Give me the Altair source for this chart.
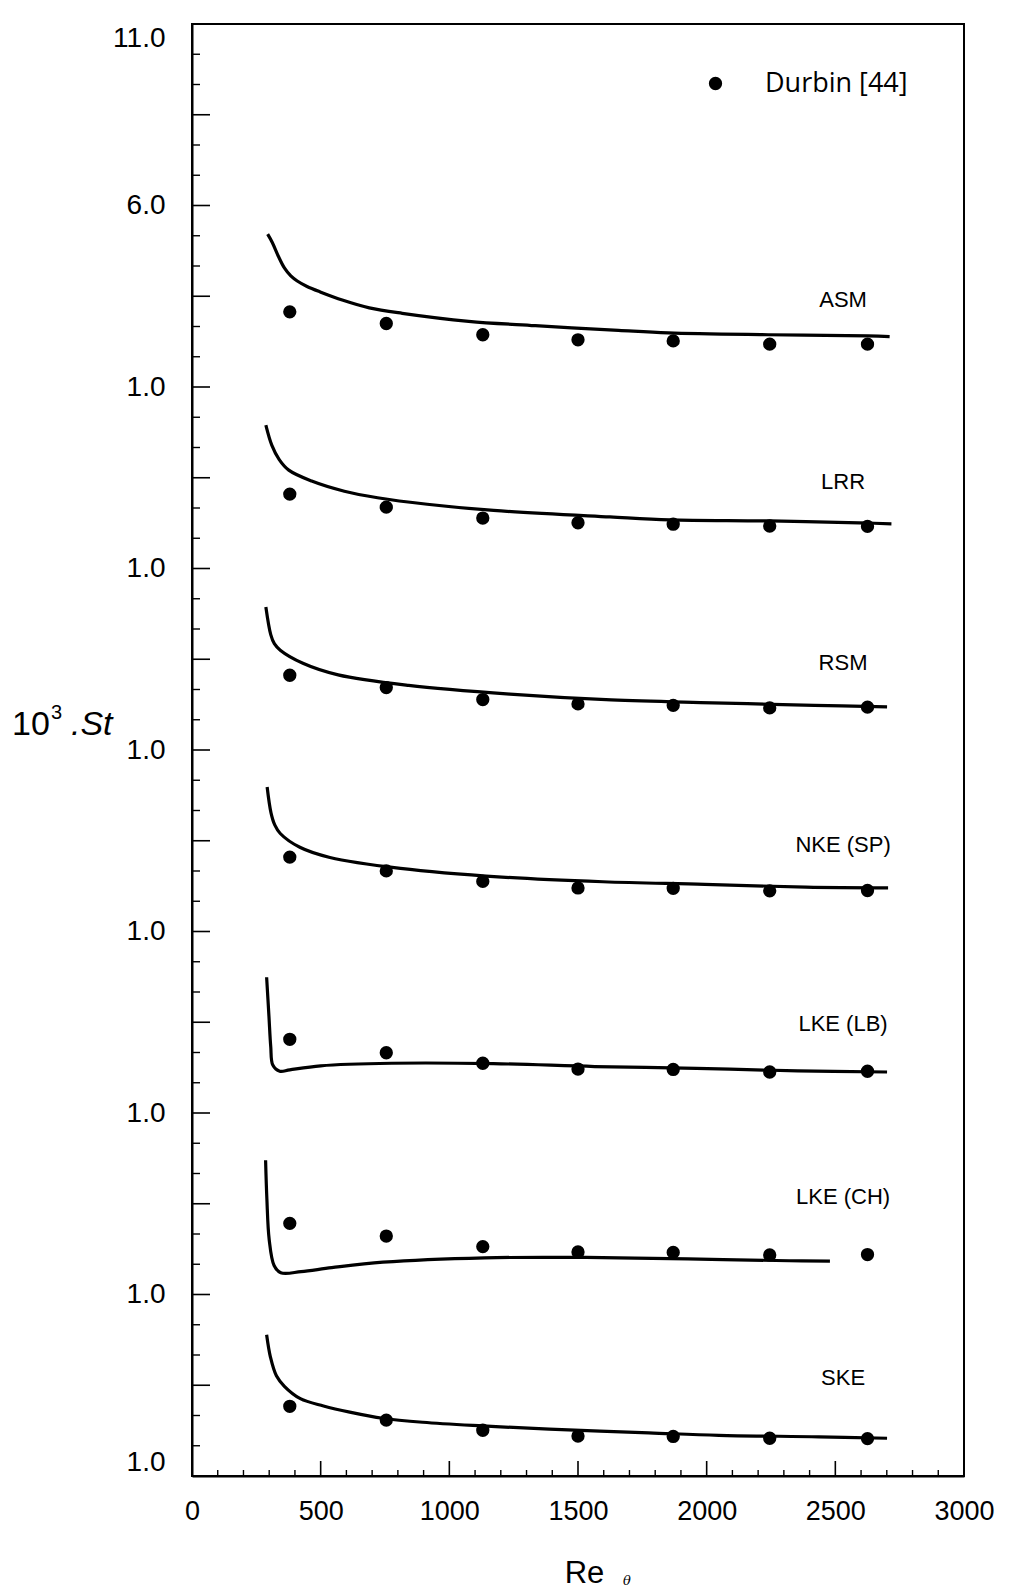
import altair as alt
import pandas as pd

# Stanton number (x 10^3) versus momentum-thickness Reynolds number.
# Each model is stacked 5 units above the one below it.
models = ["ASM", "LRR", "RSM", "NKE (SP)", "LKE (LB)", "LKE (CH)", "SKE"]
shift = [30, 25, 20, 15, 10, 5, 0]

# Durbin [44] experimental points
re_exp = [380, 755, 1130, 1500, 1870, 2245, 2625]
st_exp = {
    "ASM":      [3.07, 2.75, 2.44, 2.30, 2.27, 2.18, 2.18],
    "LRR":      [3.05, 2.69, 2.39, 2.26, 2.22, 2.17, 2.16],
    "RSM":      [3.06, 2.72, 2.39, 2.27, 2.23, 2.16, 2.18],
    "NKE (SP)": [3.05, 2.67, 2.38, 2.20, 2.19, 2.12, 2.13],
    "LKE (LB)": [3.03, 2.66, 2.37, 2.21, 2.20, 2.13, 2.15],
    "LKE (CH)": [2.96, 2.61, 2.32, 2.17, 2.16, 2.09, 2.10],
    "SKE":      [2.92, 2.54, 2.26, 2.10, 2.09, 2.04, 2.03],
}

# model predictions
re_model = {
    "ASM":      [294, 312, 335, 359, 384, 409, 447, 498, 587, 689, 817, 1075, 1334,
                 1657, 1851, 2239, 2627, 2711],
    "LRR":      [287, 310, 339, 376, 465, 592, 721, 914, 1172, 1624, 1857, 2245, 2634, 2718],
    "RSM":      [287, 306, 320, 343, 431, 568, 842, 1235, 1629, 2023, 2418, 2701],
    "NKE (SP)": [292, 307, 322, 343, 419, 536, 810, 1204, 1597, 1992, 2386, 2705],
    "LKE (LB)": [290, 299, 306, 314, 341, 380, 500, 776, 1171, 1565, 1960, 2354, 2701],
    "LKE (CH)": [286, 291, 300, 319, 345, 424, 543, 742, 1137, 1532, 1926, 2321, 2479],
    "SKE":      [290, 305, 328, 359, 421, 511, 613, 742, 897, 1129, 1388, 1775, 2047, 2436, 2701],
}
st_model = {
    "ASM":      [5.21, 4.98, 4.61, 4.28, 4.06, 3.92, 3.77, 3.62, 3.39, 3.18, 3.03, 2.81, 2.69,
                 2.56, 2.49, 2.44, 2.41, 2.39],
    "LRR":      [4.95, 4.40, 4.00, 3.71, 3.41, 3.13, 2.95, 2.77, 2.60, 2.42, 2.34, 2.31, 2.25, 2.23],
    "RSM":      [4.94, 4.18, 3.93, 3.75, 3.39, 3.07, 2.78, 2.54, 2.38, 2.30, 2.23, 2.19],
    "NKE (SP)": [4.98, 4.27, 3.93, 3.70, 3.32, 3.04, 2.74, 2.50, 2.37, 2.30, 2.22, 2.20],
    "LKE (LB)": [4.74, 3.67, 2.83, 2.32, 2.15, 2.19, 2.30, 2.37, 2.36, 2.28, 2.23, 2.16, 2.13],
    "LKE (CH)": [4.70, 3.63, 2.51, 1.80, 1.60, 1.63, 1.74, 1.89, 2.01, 2.02, 1.98, 1.93, 1.92],
    "SKE":      [4.89, 4.27, 3.76, 3.47, 3.13, 2.93, 2.76, 2.59, 2.48, 2.38, 2.29, 2.19, 2.12, 2.08, 2.04],
}

# where each model name sits (Re, local level)
label_re = 2530
label_level = [3.40, 3.37, 3.41, 3.39, 3.46, 3.68, 3.71]

# axis ticks
x_major = list(range(0, 3001, 500))
x_minor = [v for v in range(100, 3000, 100) if v % 500]
y_major = [1 + 5 * k for k in range(9)]
y_mid = [3.5 + 5 * k for k in range(8)]
y_minor = [1 + 5 * k + j * 5 / 6 for k in range(8) for j in (1, 2, 4, 5)]

W, H = 772, 1452
FONT = "Liberation Sans"

line_rows, pt_rows, lab_rows = [], [], []
for m, s, lv in zip(models, shift, label_level):
    for i, (r, v) in enumerate(zip(re_model[m], st_model[m])):
        line_rows.append({"model": m, "Re": r, "y": v + s, "i": i})
    for r, v in zip(re_exp, st_exp[m]):
        pt_rows.append({"model": m, "Re": r, "y": v + s, "src": "Durbin [44]"})
    lab_rows.append({"model": m, "Re": label_re, "y": lv + s})

lines_df = pd.DataFrame(line_rows)
pts_df = pd.DataFrame(pt_rows)
lab_df = pd.DataFrame(lab_rows)

x_enc = alt.X(
    "Re:Q",
    scale=alt.Scale(domain=[0, 3000], nice=False, zero=False),
    axis=alt.Axis(
        values=x_major, format="d", ticks=False, grid=False, labelFontSize=27,
        labelFont=FONT, labelPadding=22, labelColor="black", labelFlush=False,
        title="Re", titleFont=FONT, titleFontSize=31, titleFontWeight="normal",
        titleColor="black", titleX=392, titleY=106, titleBaseline="alphabetic",
        titleAlign="center",
    ),
)
y_enc = alt.Y(
    "y:Q",
    scale=alt.Scale(domain=[1, 41], nice=False, zero=False),
    axis=alt.Axis(
        values=y_major, ticks=False, grid=False, labelFontSize=28, labelFont=FONT,
        labelPadding=27, labelColor="black", labelFlush=True,
        labelExpr="datum.value >= 31 ? format(datum.value - 30, '.1f') : '1.0'",
        title="",
    ),
)

curves = alt.Chart(lines_df).mark_line(
    color="black", strokeWidth=3.2, interpolate="catmull-rom"
).encode(x=x_enc, y=y_enc, detail="model:N", order="i:Q")

points = alt.Chart(pts_df).mark_circle(size=177, opacity=1).encode(
    x=x_enc,
    y=y_enc,
    color=alt.Color(
        "src:N",
        title=None,
        scale=alt.Scale(domain=["Durbin [44]"], range=["black"]),
        legend=alt.Legend(
            orient="none", legendX=510, legendY=46, symbolType="circle",
            symbolSize=177, symbolFillColor="black", symbolStrokeWidth=0,
            labelFont="Open Sans", labelFontSize=27, labelOffset=36,
            labelColor="black", padding=0,
        ),
    ),
)

names = alt.Chart(lab_df).mark_text(
    font=FONT, fontSize=22, color="black", align="center", baseline="middle"
).encode(x=x_enc, y=y_enc, text="model:N")

# inward ticks on the left axis
y_long = alt.Chart(pd.DataFrame({"y": y_major + y_mid})).mark_rule(
    color="black", strokeWidth=1.6
).encode(y=y_enc, x=alt.value(0), x2=alt.value(18))
y_short = alt.Chart(pd.DataFrame({"y": y_minor})).mark_rule(
    color="black", strokeWidth=1.4
).encode(y=y_enc, x=alt.value(0), x2=alt.value(8))

# inward ticks on the bottom axis
x_long = alt.Chart(pd.DataFrame({"Re": x_major})).mark_rule(
    color="black", strokeWidth=1.6
).encode(x=x_enc, y=alt.value(H), y2=alt.value(H - 15))
x_short = alt.Chart(pd.DataFrame({"Re": x_minor})).mark_rule(
    color="black", strokeWidth=1.4
).encode(x=x_enc, y=alt.value(H), y2=alt.value(H - 6))

# axis title pieces: 10^3 .St and the theta subscript of Re
ttl = pd.DataFrame({"t": ["10", "3", ".St", "\u03b8"]})
t10 = alt.Chart(ttl).transform_filter("datum.t == '10'").mark_text(
    font=FONT, fontSize=34, color="black", align="left", baseline="alphabetic"
).encode(x=alt.value(-180), y=alt.value(711), text="t:N")
t3 = alt.Chart(ttl).transform_filter("datum.t == '3'").mark_text(
    font=FONT, fontSize=20, color="black", align="left", baseline="alphabetic"
).encode(x=alt.value(-141), y=alt.value(695), text="t:N")
tst = alt.Chart(ttl).transform_filter("datum.t == '.St'").mark_text(
    font=FONT, fontSize=34, fontStyle="italic", color="black", align="left",
    baseline="alphabetic"
).encode(x=alt.value(-121), y=alt.value(711), text="t:N")
tth = alt.Chart(ttl).transform_filter("datum.t == '\u03b8'").mark_text(
    font="DejaVu Serif", fontSize=13, fontStyle="italic", color="black",
    align="center", baseline="middle"
).encode(x=alt.value(435), y=alt.value(1557), text="t:N")

chart = alt.layer(
    y_long, y_short, x_long, x_short, curves, points, names, t10, t3, tst, tth
).properties(
    width=W,
    height=H,
    autosize=alt.AutoSizeParams(type="none"),
    padding={"left": 192, "top": 24, "right": 72, "bottom": 117},
    background="white",
).configure_view(
    stroke="black", strokeWidth=2
).configure_axis(
    domainColor="black", domainWidth=2
)

chart.save("out.html", embed_options={"renderer": "svg", "actions": False})
